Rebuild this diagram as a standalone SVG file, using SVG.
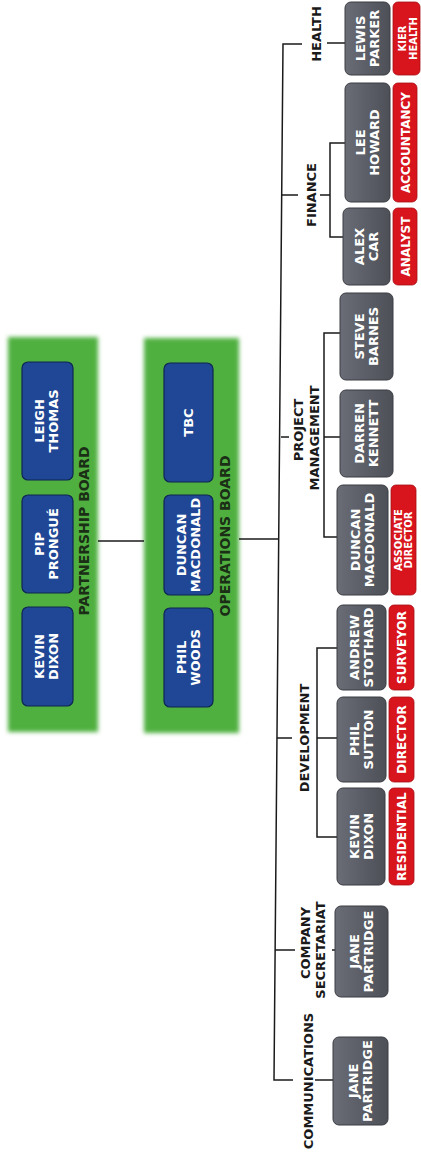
<svg xmlns="http://www.w3.org/2000/svg" width="421" height="1162" viewBox="0 0 421 1162">
<defs>
<filter id="soft" x="-10%" y="-10%" width="120%" height="120%"><feGaussianBlur stdDeviation="2"/></filter>
<linearGradient id="gg" x1="0" y1="0" x2="0" y2="1"><stop offset="0" stop-color="#6a6d75"/><stop offset="0.5" stop-color="#5b5e66"/><stop offset="1" stop-color="#4d5057"/></linearGradient>
</defs>
<style>
.board{fill:#4fb03f;filter:url(#soft)}
.blue{fill:#1f4795;stroke:#0f2552;stroke-width:1.2}
.grey{fill:url(#gg);stroke:#3a3c42;stroke-width:1}
.red{fill:#d8141d;stroke:#a80f15;stroke-width:0.8}
.nm{font-family:"DejaVu Sans",Verdana,sans-serif;font-weight:bold;font-size:13px;fill:#ffffff;text-anchor:middle}
.rt{font-family:"DejaVu Sans",Verdana,sans-serif;font-weight:bold;font-size:12px;fill:#ffffff;text-anchor:middle}
.rs{font-family:"DejaVu Sans",Verdana,sans-serif;font-weight:bold;font-size:10px;fill:#ffffff;text-anchor:middle}
.lb{font-family:"DejaVu Sans",Verdana,sans-serif;font-weight:bold;font-size:13px;fill:#1a1a1a;text-anchor:middle}
.bl{font-family:"DejaVu Sans",Verdana,sans-serif;font-weight:bold;font-size:14px;fill:#1b2e16;text-anchor:middle}
.ln{stroke:#1a1a1a;stroke-width:1.5;fill:none}
</style>
<rect width="421" height="1162" fill="#ffffff"/>
<g transform="translate(0,1162) rotate(-90)">
<g id="partnership-board">
<rect class="board" x="430" y="8" width="395" height="90"/>
<text class="bl" x="631" y="89">PARTNERSHIP BOARD</text>
</g>
<g id="pb-leigh-thomas"><rect class="blue" x="682" y="22" width="118" height="51" rx="6"/><text class="nm" x="741" y="44">LEIGH</text><text class="nm" x="741" y="58">THOMAS</text></g>
<g id="pb-pip-prongue"><rect class="blue" x="569" y="22" width="98" height="51" rx="6"/><text class="nm" x="618" y="44">PIP</text><text class="nm" x="618" y="58">PRONGUÉ</text></g>
<g id="pb-kevin-dixon"><rect class="blue" x="456" y="22" width="99" height="51" rx="6"/><text class="nm" x="505.5" y="44">KEVIN</text><text class="nm" x="505.5" y="58">DIXON</text></g>
<g id="operations-board">
<rect class="board" x="429" y="144" width="395" height="95"/>
<text class="bl" x="626" y="230">OPERATIONS BOARD</text>
</g>
<g id="ob-tbc"><rect class="blue" x="680" y="164" width="119" height="49" rx="6"/><text class="nm" x="739.5" y="193">TBC</text></g>
<g id="ob-duncan-macdonald"><rect class="blue" x="567" y="164" width="100" height="49" rx="6"/><text class="nm" x="617" y="186">DUNCAN</text><text class="nm" x="617" y="200">MACDONALD</text></g>
<g id="ob-phil-woods"><rect class="blue" x="455" y="164" width="99" height="49" rx="6"/><text class="nm" x="504.5" y="186">PHIL</text><text class="nm" x="504.5" y="200">WOODS</text></g>
<g id="connectors">
<path class="ln" d="M621,98 V144"/>
<path class="ln" d="M623,239 V279"/>
<path class="ln" d="M1118,302 V283 L82,274 V293"/>
<path class="ln" d="M1119,327 V345"/>
<path class="ln" d="M967,282 V298 M967,320 V330 M1019,345 V330 H925 V343"/>
<path class="ln" d="M725,281 V289 M829,340 V324 H625 V337 M725,324 V340"/>
<path class="ln" d="M424,277 V292 M514,337 V317 H325 V337 M424,317 V337"/>
<path class="ln" d="M212,275 V295 M212,332 V335"/>
<path class="ln" d="M82,315 V333"/>
</g>
<g id="label-health"><text class="lb" x="1128" y="321">HEALTH</text></g>
<g id="label-finance"><text class="lb" x="967" y="316">FINANCE</text></g>
<g id="label-project-management"><text class="lb" x="732" y="303">PROJECT</text><text class="lb" x="724" y="319">MANAGEMENT</text></g>
<g id="label-development"><text class="lb" x="424" y="309">DEVELOPMENT</text></g>
<g id="label-company-secretariat"><text class="lb" x="219" y="310">COMPANY</text><text class="lb" x="212" y="325">SECRETARIAT</text></g>
<g id="label-communications"><text class="lb" x="81" y="313">COMMUNICATIONS</text></g>
<g id="lewis-parker"><rect class="grey" x="1087" y="345" width="73" height="45" rx="6"/><text class="nm" x="1123.5" y="365">LEWIS</text><text class="nm" x="1123.5" y="379">PARKER</text><rect class="red" x="1087" y="393" width="73" height="27" rx="5"/><text class="rs" x="1123.5" y="406">KIER</text><text class="rs" x="1123.5" y="416.5">HEALTH</text></g>
<g id="lee-howard"><rect class="grey" x="960" y="345" width="119" height="45" rx="6"/><text class="nm" x="1019.5" y="365">LEE</text><text class="nm" x="1019.5" y="379">HOWARD</text><rect class="red" x="960" y="393" width="119" height="24" rx="5"/><text class="rt" x="1019.5" y="409.5">ACCOUNTANCY</text></g>
<g id="alex-car"><rect class="grey" x="877" y="343" width="77" height="47" rx="6"/><text class="nm" x="915.5" y="364">ALEX</text><text class="nm" x="915.5" y="378">CAR</text><rect class="red" x="877" y="393" width="77" height="24" rx="5"/><text class="rt" x="915.5" y="409.5">ANALYST</text></g>
<g id="steve-barnes"><rect class="grey" x="782" y="340" width="87" height="53" rx="6"/><text class="nm" x="825.5" y="364">STEVE</text><text class="nm" x="825.5" y="378">BARNES</text></g>
<g id="darren-kennett"><rect class="grey" x="685" y="340" width="87" height="53" rx="6"/><text class="nm" x="728.5" y="364">DARREN</text><text class="nm" x="728.5" y="378">KENNETT</text></g>
<g id="duncan-macdonald"><rect class="grey" x="567" y="337" width="110" height="51" rx="6"/><text class="nm" x="622" y="360">DUNCAN</text><text class="nm" x="622" y="374">MACDONALD</text><rect class="red" x="567" y="391" width="110" height="25" rx="5"/><text class="rs" x="622" y="401.5">ASSOCIATE</text><text class="rs" x="622" y="411.5">DIRECTOR</text></g>
<g id="andrew-stothard"><rect class="grey" x="472" y="337" width="85" height="49" rx="6"/><text class="nm" x="514.5" y="359">ANDREW</text><text class="nm" x="514.5" y="373">STOTHARD</text><rect class="red" x="472" y="389" width="85" height="25" rx="5"/><text class="rt" x="514.5" y="406">SURVEYOR</text></g>
<g id="phil-sutton"><rect class="grey" x="380" y="337" width="85" height="49" rx="6"/><text class="nm" x="422.5" y="359">PHIL</text><text class="nm" x="422.5" y="373">SUTTON</text><rect class="red" x="380" y="389" width="85" height="25" rx="5"/><text class="rt" x="422.5" y="406">DIRECTOR</text></g>
<g id="kevin-dixon"><rect class="grey" x="277" y="337" width="97" height="48" rx="6"/><text class="nm" x="325.5" y="359">KEVIN</text><text class="nm" x="325.5" y="373">DIXON</text><rect class="red" x="277" y="389" width="97" height="25" rx="5"/><text class="rt" x="325.5" y="406">RESIDENTIAL</text></g>
<g id="jane-partridge-cs"><rect class="grey" x="165" y="335" width="91" height="53" rx="6"/><text class="nm" x="210.5" y="359">JANE</text><text class="nm" x="210.5" y="373">PARTRIDGE</text></g>
<g id="jane-partridge-comms"><rect class="grey" x="37" y="333" width="88" height="55" rx="6"/><text class="nm" x="81" y="358">JANE</text><text class="nm" x="81" y="372">PARTRIDGE</text></g>
</g>
</svg>
